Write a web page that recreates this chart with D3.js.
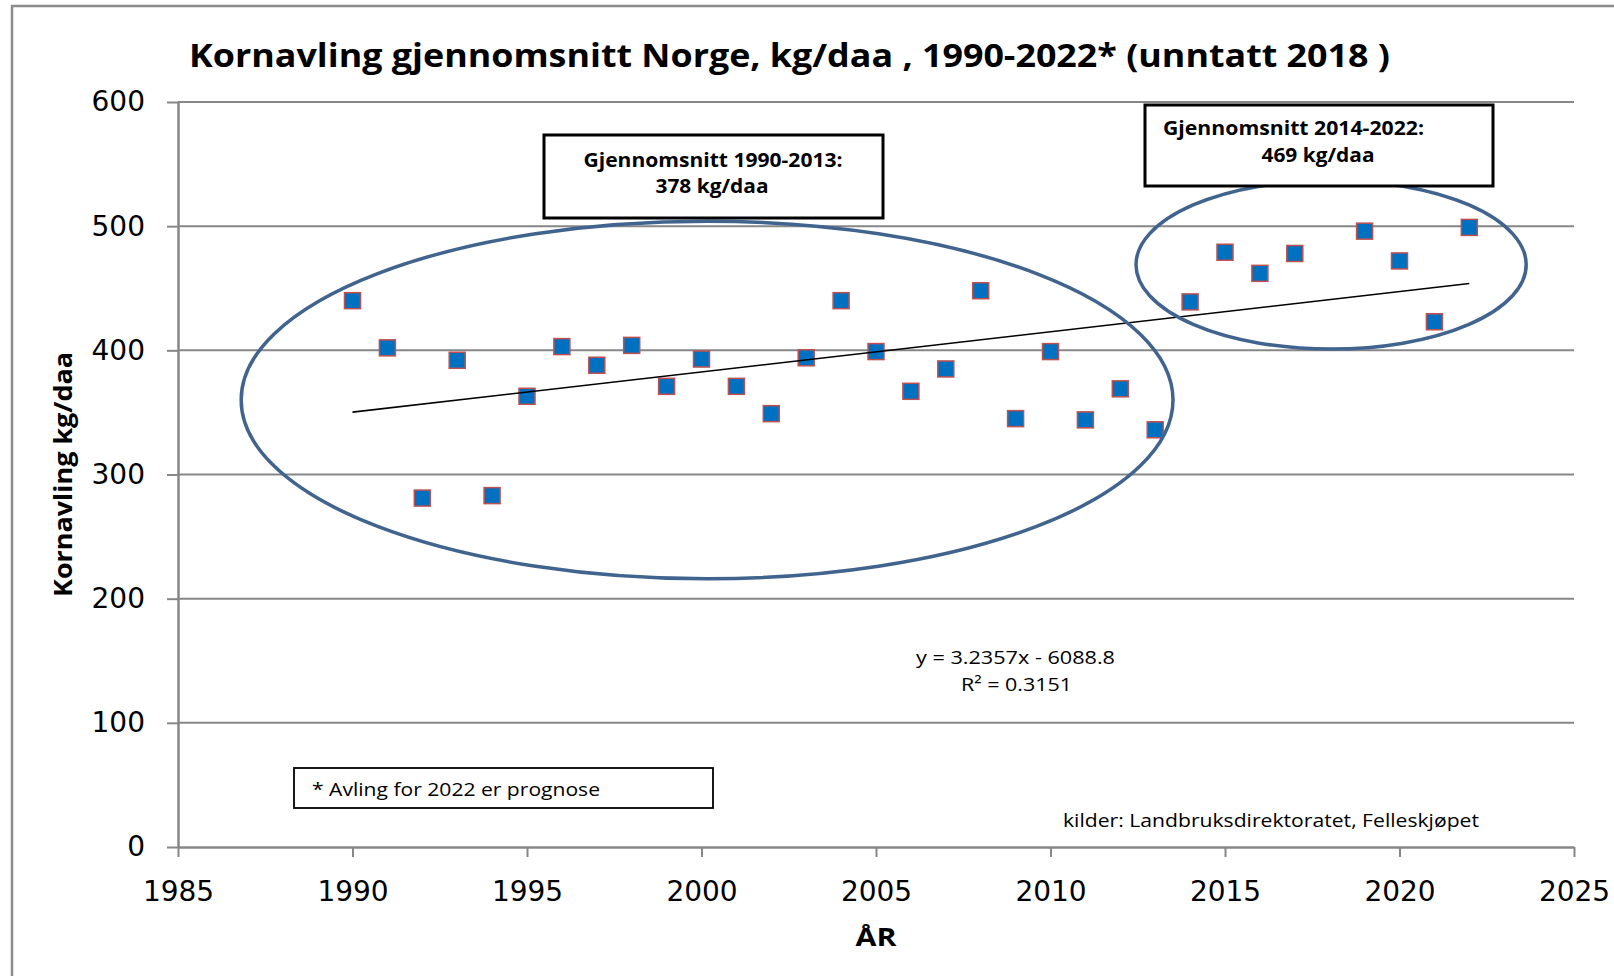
<!DOCTYPE html>
<html>
<head>
<meta charset="utf-8">
<script src="https://cdn.jsdelivr.net/npm/d3@7"></script>
<style>
  body { margin: 0; background: #fff; }
  svg text { font-family: "Open Sans", sans-serif; fill: #000; }
</style>
</head>
<body>
<svg id="chart" width="1614" height="976"></svg>
<script>
// data (2018 is left out)
const years = [1990, 1991, 1992, 1993, 1994, 1995, 1996, 1997, 1998, 1999,
  2000, 2001, 2002, 2003, 2004, 2005, 2006, 2007, 2008, 2009,
  2010, 2011, 2012, 2013, 2014, 2015, 2016, 2017, 2019, 2020, 2021, 2022];
const yields = [440, 402, 281, 392, 283, 363, 403, 388, 404, 371,
  393, 371, 349, 394, 440, 399, 367, 385, 448, 345,
  399, 344, 369, 336, 439, 479, 462, 478, 496, 472, 423, 499];

const xTicks = [1985, 1990, 1995, 2000, 2005, 2010, 2015, 2020, 2025];
const yTicks = [0, 100, 200, 300, 400, 500, 600];

// linear trend as printed on the chart
const trendSlope = 3.2357;
const trendIntercept = -6088.8;
const trendYears = [1990, 2022];

const titleText = "Kornavling gjennomsnitt Norge, kg/daa , 1990-2022* (unntatt 2018 )";
const yLabel = "Kornavling kg/daa";
const xLabel = "ÅR";
const avgLabels1 = ["Gjennomsnitt 1990-2013:", "378 kg/daa"];
const avgLabels2 = ["Gjennomsnitt 2014-2022:", "469 kg/daa"];
const noteText = "* Avling for 2022 er prognose";
const eqLines = ["y = 3.2357x - 6088.8", "R² = 0.3151"];
const sourceText = "kilder: Landbruksdirektoratet, Felleskjøpet";

const svg = d3.select("#chart");

// chart frame (only left and top edge are visible)
svg.append("rect")
  .attr("x", 12).attr("y", 6)
  .attr("width", 1700).attr("height", 1100)
  .attr("fill", "#fff")
  .attr("stroke", "#8c8c8c")
  .attr("stroke-width", 2.5);

// scales
const x = d3.scaleLinear().domain([1985, 2025]).range([178, 1574]);
const y = d3.scaleLinear().domain([0, 600]).range([847, 102]);

const gridColor = "#878787";

// horizontal gridlines
svg.append("g")
  .selectAll("line")
  .data(yTicks.filter(d => d > 0))
  .enter()
  .append("line")
  .attr("x1", x(1985)).attr("x2", x(2025))
  .attr("y1", d => y(d)).attr("y2", d => y(d))
  .attr("stroke", gridColor)
  .attr("stroke-width", 2);

// y axis
const yAxis = svg.append("g")
  .attr("transform", `translate(${x(1985)}, 0)`)
  .call(d3.axisLeft(y).tickValues(yTicks).tickSize(11).tickSizeOuter(0).tickPadding(22));

// x axis
const xAxis = svg.append("g")
  .attr("transform", `translate(0, ${y(0)})`)
  .call(d3.axisBottom(x).tickValues(xTicks).tickFormat(d3.format("d"))
    .tickSize(10).tickSizeOuter(0).tickPadding(24));

[yAxis, xAxis].forEach(ax => {
  ax.select(".domain").attr("stroke", gridColor).attr("stroke-width", 2.5);
  ax.selectAll(".tick line").attr("stroke", gridColor).attr("stroke-width", 2);
  ax.selectAll(".tick text")
    .style("font-family", "'DejaVu Sans', sans-serif")
    .style("font-size", "28px")
    .attr("fill", "#000");
});

// axis titles
svg.append("text")
  .attr("transform", "translate(72, 474.5) rotate(-90)")
  .attr("text-anchor", "middle")
  .attr("textLength", 245).attr("lengthAdjust", "spacingAndGlyphs")
  .style("font-size", "25px").style("font-weight", "bold")
  .text(yLabel);

svg.append("text")
  .attr("x", 876).attr("y", 946)
  .attr("text-anchor", "middle")
  .attr("textLength", 41).attr("lengthAdjust", "spacingAndGlyphs")
  .style("font-size", "25px").style("font-weight", "bold")
  .text(xLabel);

// title
svg.append("text")
  .attr("x", 189).attr("y", 67)
  .attr("textLength", 1201).attr("lengthAdjust", "spacingAndGlyphs")
  .style("font-size", "33px").style("font-weight", "bold")
  .text(titleText);

// points
svg.append("g")
  .selectAll("rect")
  .data(years.map((yr, i) => ({year: yr, value: yields[i]})))
  .enter()
  .append("rect")
  .attr("x", d => x(d.year) - 8)
  .attr("y", d => y(d.value) - 8)
  .attr("width", 16).attr("height", 16)
  .attr("fill", "#0070C0")
  .attr("stroke", "#C0504D")
  .attr("stroke-width", 1.5);

// trend line
const trendLine = d3.line()
  .x(d => x(d))
  .y(d => y(trendSlope * d + trendIntercept));

svg.append("path")
  .datum(trendYears)
  .attr("d", trendLine)
  .attr("fill", "none")
  .attr("stroke", "#000")
  .attr("stroke-width", 1.6);

// ellipses round the two periods (centre and radii in data units)
const ellipses = [
  {cx: 2000.16, cy: 360, rx: 13.35, ry: 144},
  {cx: 2018.04, cy: 469, rx: 5.59, ry: 68}
];
svg.append("g")
  .selectAll("ellipse")
  .data(ellipses)
  .enter()
  .append("ellipse")
  .attr("cx", d => x(d.cx))
  .attr("cy", d => y(d.cy))
  .attr("rx", d => x(1985 + d.rx) - x(1985))
  .attr("ry", d => y(0) - y(d.ry))
  .attr("fill", "none")
  .attr("stroke", "#41648F")
  .attr("stroke-width", 3.5);

// text boxes
function box(x0, y0, w, h, sw) {
  svg.append("rect")
    .attr("x", x0).attr("y", y0)
    .attr("width", w).attr("height", h)
    .attr("fill", "#fff")
    .attr("stroke", "#000")
    .attr("stroke-width", sw);
}
function label(t, xPos, yPos, len, size, weight, anchor) {
  svg.append("text")
    .attr("x", xPos).attr("y", yPos)
    .attr("text-anchor", anchor || "start")
    .attr("textLength", len).attr("lengthAdjust", "spacingAndGlyphs")
    .style("font-size", size + "px")
    .style("font-weight", weight)
    .text(t);
}

box(544, 135, 339, 83, 3);
label(avgLabels1[0], 713, 166.5, 259, 20, "bold", "middle");
label(avgLabels1[1], 712, 192.5, 113, 20, "bold", "middle");

box(1145, 105, 348, 81, 3);
label(avgLabels2[0], 1163, 135, 261, 20, "bold");
label(avgLabels2[1], 1318, 161.5, 113, 20, "bold", "middle");

box(294, 768, 419, 40, 1.8);
label(noteText, 312, 796, 288, 19, "normal");

// regression text and source
label(eqLines[0], 916, 664, 199, 19, "normal");
label(eqLines[1], 961, 691, 111, 19, "normal");
label(sourceText, 1063, 827, 416, 19, "normal");
</script>
</body>
</html>
